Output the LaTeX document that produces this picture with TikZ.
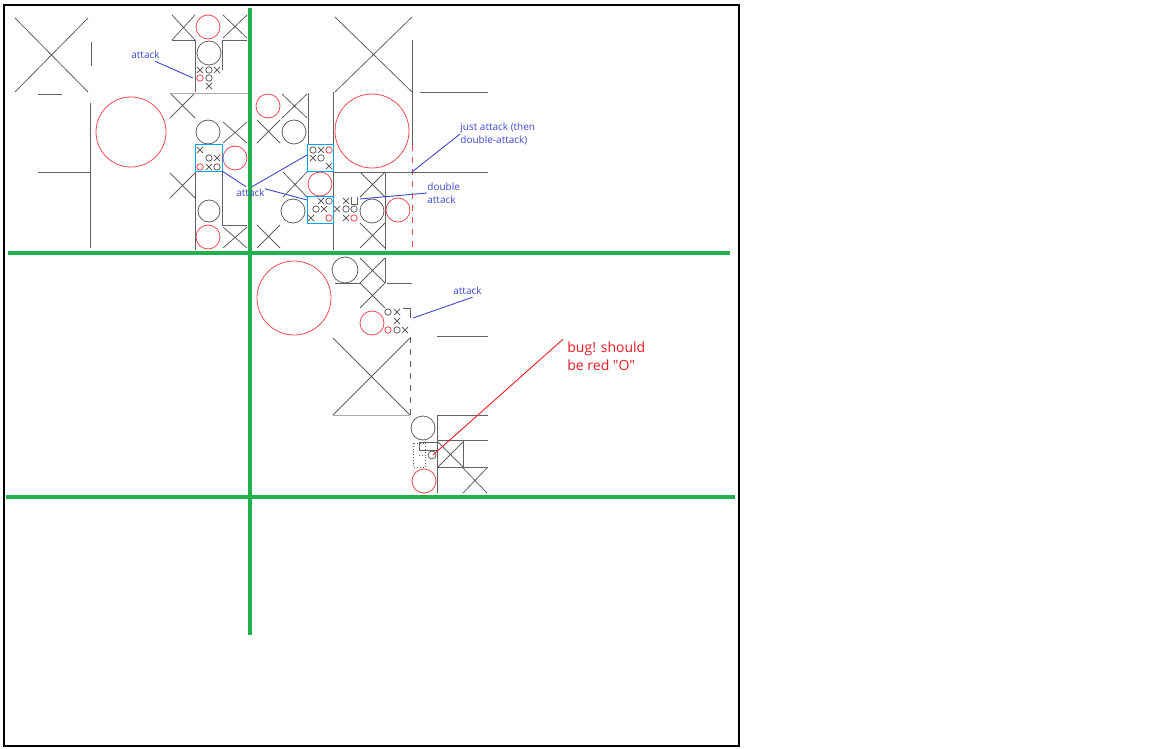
\documentclass[tikz,border=0pt]{standalone}
\usepackage{fontspec}
\setmainfont{Open Sans}
\definecolor{verde}{RGB}{34,177,76}
\definecolor{azul}{RGB}{63,72,204}
\definecolor{rojo}{RGB}{237,28,36}
\definecolor{celeste}{RGB}{0,162,232}
\definecolor{lapiz}{RGB}{70,70,70}
\newcommand{\cruz}[4]{\draw[sketch] (#1,#2) -- (#3,#4) (#1,#4) -- (#3,#2);}
\newcommand{\px}[2]{\draw[sketch] (#1-3,#2-3) -- (#1+3,#2+3) (#1-3,#2+3) -- (#1+3,#2-3);}
\newcommand{\po}[2]{\draw[sketch] (#1,#2) circle (3.2);}
\newcommand{\pr}[2]{\draw[ring] (#1,#2) circle (3.2);}

\begin{document}
\begin{tikzpicture}[x=0.5pt,y=-0.5pt,
sketch/.style={draw=lapiz!85,line width=0.4pt},
faint/.style={draw=lapiz!45,line width=0.4pt},
ring/.style={draw=rojo!80,line width=0.4pt},
cell/.style={draw=celeste,line width=0.5pt},
split/.style={draw=verde,line width=1.6pt},
leader/.style={draw=azul,line width=0.45pt},
note/.style={text=azul,font=\fontsize{5}{6.5}\selectfont,align=left,inner sep=0pt},
bugnote/.style={text=rojo,font=\fontsize{7}{9}\selectfont,align=left,inner sep=0pt}
]
\useasboundingbox (0,0) rectangle (1152,749);
\draw[line width=0.9pt] (4,5) rectangle (739,746);

% top left quarter
\cruz{15}{18}{88}{92}
\draw[sketch] (38,94) -- (62,94) (91,42) -- (91,66) (90,103) -- (90,248) (38,172) -- (90,172);
\draw[ring] (131,132) circle (35);
\cruz{172}{15}{195}{40}
\draw[ring] (208,27) circle (12);
\cruz{223}{15}{247}{38}
\draw[sketch] (172,40) -- (195,40) -- (195,92) (247,40) -- (222,40) -- (222,70);
\draw[sketch] (209,53) circle (12);
\px{200}{70} \po{209}{70} \px{217}{70}
\pr{200}{78} \po{209}{78} \px{209}{86}
\cruz{170}{93}{195}{118}
\draw[faint] (170,93) -- (250,93);
\draw[sketch] (208,132) circle (12);
\cruz{223}{122}{247}{143}
\draw[cell] (195,145) rectangle (222,172);
\px{200}{150} \po{209}{158} \px{217}{158}
\pr{200}{167} \px{209}{167} \po{217}{167}
\draw[ring] (235,158) circle (12);
\cruz{170}{173}{195}{198}
\draw[sketch] (195,172) -- (195,250) (222,172) -- (222,225) -- (247,225);
\draw[sketch] (209,211) circle (11);
\draw[ring] (208,237) circle (12);
\cruz{223}{227}{247}{248}

% top right quarter
\cruz{335}{17}{412}{92}
\draw[sketch] (412,40) -- (412,145) (420,92) -- (488,92) (333,92) -- (333,250);
\draw[ring,dashed] (412,145) -- (412,250);
\draw[ring] (268,106) circle (12);
\cruz{282}{94}{307}{118}
\draw[sketch] (308,93) -- (308,145);
\cruz{257}{120}{280}{143}
\draw[sketch] (294,132) circle (12);
\draw[ring] (372,131) circle (37);
\draw[cell] (307,145) rectangle (333,172);
\po{313}{150} \px{321}{150} \pr{329}{150}
\px{313}{158} \po{321}{158} \px{329}{166}
\draw[sketch] (333,172) -- (488,172);
\draw[ring] (320,184) circle (12);
\cruz{283}{172}{307}{197}
\cruz{360}{172}{385}{197}
\draw[sketch] (385,172) -- (385,250);
\draw[cell] (307,197) rectangle (333,223);
\px{321}{201} \po{329}{201} \po{316}{209} \px{324}{209}
\px{311}{218} \pr{329}{218}
\draw[sketch] (293,211) circle (12);
\px{346}{201} \draw[sketch] (351,197) -- (351,204) -- (357,204) -- (357,197);
\px{337}{209} \po{346}{209} \po{354}{209}
\px{346}{218} \pr{354}{218}
\draw[sketch] (372,211) circle (12);
\draw[ring] (398,210) circle (12);
\cruz{257}{225}{280}{248}
\cruz{360}{223}{385}{248}

% lower middle
\draw[ring] (294,298) circle (37);
\draw[sketch] (345,270) circle (13);
\cruz{360}{258}{385}{283}
\draw[sketch] (385,258) -- (385,283) (335,283) -- (360,283) (387,283) -- (412,283);
\cruz{360}{283}{385}{308}
\draw[ring] (372,323) circle (12);
\po{388}{312} \px{397}{312} \draw[sketch] (403,308) -- (410,308) -- (410,318);
\px{397}{321}
\pr{388}{330} \po{397}{330} \px{405}{330}
\draw[sketch] (437,336) -- (488,336);
\cruz{333}{338}{410}{415}
\draw[sketch,dashed] (410,337) -- (410,415);
\draw[faint] (333,415) -- (410,415);
\draw[sketch] (423,428) circle (12);
\draw[sketch] (437,415) -- (488,415) (437,415) -- (437,493) (437,440) -- (488,440)
  (463,440) -- (463,467) (437,467) -- (488,467) (419,442) rectangle (437,450);
\cruz{438}{442}{463}{467}
\cruz{463}{468}{487}{493}
\draw[sketch,densely dotted] (413,443) rectangle (425,467) (419,455) -- (425,455);
\draw[sketch] (432,455) circle (4);
\draw[ring] (424,481) circle (12);

% separators
\draw[split] (8,253) -- (730,253);
\draw[split] (6,497) -- (735,497);
\draw[split] (250,8) -- (250,635);

% notes
\node[note,anchor=west] (att1) at (131,55) {attack};
\node[note,anchor=west] (att2) at (236,193) {attack};
\node[note,anchor=west] (jatt) at (460,134) {just attack (then\\double-attack)};
\node[note,anchor=west] (datt) at (427,193) {double\\attack};
\node[note,anchor=west] (att3) at (453,291) {attack};
\node[bugnote,anchor=west] (bug) at (567,356) {bug! should\\be red \textquotedbl O\textquotedbl};

\coordinate (c1) at (193,78);
\coordinate (c2) at (222,171);
\coordinate (c3) at (307,155);
\coordinate (c4) at (307,200);
\coordinate (c5) at (412,172);
\coordinate (c6) at (360,199);
\coordinate (c7) at (413,318);
\coordinate (c8) at (433,455);

\draw[leader] (att1.south east) ++(-5,2) -- (c1);
\draw[leader] (att2.north west) ++(10,-2) -- (c2);
\draw[leader] (att2.north west) ++(16,-2) -- (c3);
\draw[leader] (att2.north east) -- (c4);
\draw[leader] (jatt.west) -- (c5);
\draw[leader] (datt.west) -- (c6);
\draw[leader] (att3.south) ++(5,2) -- (c7);
\draw[draw=rojo,line width=0.45pt] (bug.north west) ++(-4,-2) -- (c8);
\end{tikzpicture}
\end{document}
